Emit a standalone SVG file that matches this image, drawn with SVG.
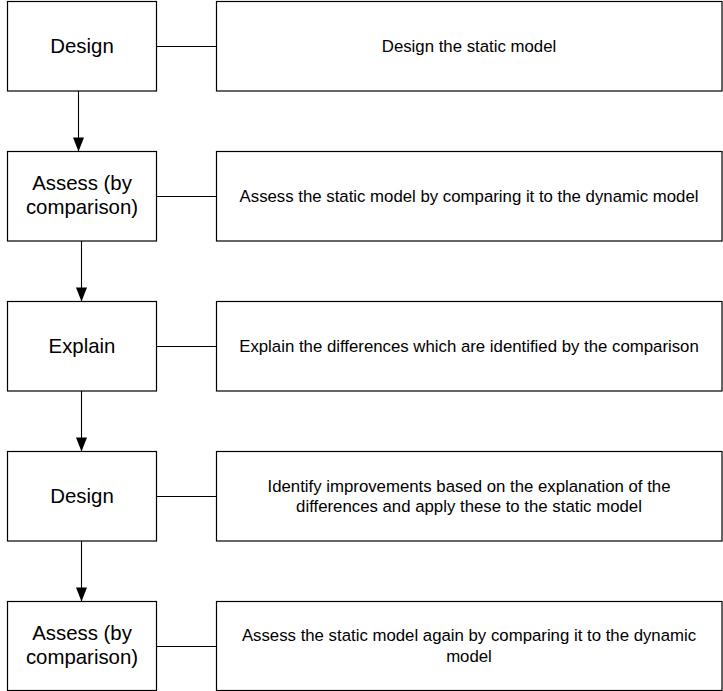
<svg xmlns="http://www.w3.org/2000/svg" width="723" height="691" viewBox="0 0 723 691">
<style>
.box{fill:#fff;stroke:#000;stroke-width:1.2}
.big{font-family:"Liberation Sans",Arial,sans-serif;font-size:20.4px;fill:#000;text-anchor:middle}
.small{font-family:"Liberation Sans",Arial,sans-serif;font-size:16.8px;fill:#000;text-anchor:middle}
.ln{stroke:#000;stroke-width:1.1;fill:none}
.head{fill:#000}
</style>
<rect width="723" height="691" fill="#fff"/>
<g id="connectors">
<line class="ln" x1="78.5" y1="91" x2="78.5" y2="151.5"/>
<path class="head" d="M73,137.5 L84,137.5 L78.5,151.5 Z"/>
<line class="ln" x1="81.5" y1="241" x2="81.5" y2="301.5"/>
<path class="head" d="M76,287.5 L87,287.5 L81.5,301.5 Z"/>
<line class="ln" x1="81.5" y1="391" x2="81.5" y2="451.5"/>
<path class="head" d="M76,437.5 L87,437.5 L81.5,451.5 Z"/>
<line class="ln" x1="81.5" y1="541" x2="81.5" y2="601.5"/>
<path class="head" d="M76,587.5 L87,587.5 L81.5,601.5 Z"/>
<line class="ln" x1="156.5" y1="46.5" x2="216.5" y2="46.5"/>
<line class="ln" x1="156.5" y1="196.5" x2="216.5" y2="196.5"/>
<line class="ln" x1="156.5" y1="346.5" x2="216.5" y2="346.5"/>
<line class="ln" x1="156.5" y1="496.5" x2="216.5" y2="496.5"/>
<line class="ln" x1="156.5" y1="646.5" x2="216.5" y2="646.5"/>
</g>
<g id="design1">
<rect class="box" x="7.5" y="1.5" width="149" height="89.5"/>
<text class="big" x="82" y="53.3">Design</text>
</g>
<g id="desc1">
<rect class="box" x="216.5" y="1.5" width="505.5" height="89.5"/>
<text class="small" x="469" y="52.3">Design the static model</text>
</g>
<g id="assess1">
<rect class="box" x="7.5" y="151.5" width="149" height="89.5"/>
<text class="big" x="82" y="190">Assess (by</text>
<text class="big" x="82" y="214">comparison)</text>
</g>
<g id="desc2">
<rect class="box" x="216.5" y="151.5" width="505.5" height="89.5"/>
<text class="small" x="469" y="202">Assess the static model by comparing it to the dynamic model</text>
</g>
<g id="explain">
<rect class="box" x="7.5" y="301.5" width="149" height="89.5"/>
<text class="big" x="82" y="353.3">Explain</text>
</g>
<g id="desc3">
<rect class="box" x="216.5" y="301.5" width="505.5" height="89.5"/>
<text class="small" x="469" y="352.3">Explain the differences which are identified by the comparison</text>
</g>
<g id="design2">
<rect class="box" x="7.5" y="451.5" width="149" height="89.5"/>
<text class="big" x="82" y="503.3">Design</text>
</g>
<g id="desc4">
<rect class="box" x="216.5" y="451.5" width="505.5" height="89.5"/>
<text class="small" x="469" y="491.7">Identify improvements based on the explanation of the</text>
<text class="small" x="469" y="511.7">differences and apply these to the static model</text>
</g>
<g id="assess2">
<rect class="box" x="7.5" y="601.5" width="149" height="89"/>
<text class="big" x="82" y="640">Assess (by</text>
<text class="big" x="82" y="664">comparison)</text>
</g>
<g id="desc5">
<rect class="box" x="216.5" y="601.5" width="505.5" height="89"/>
<text class="small" x="469" y="641">Assess the static model again by comparing it to the dynamic</text>
<text class="small" x="469" y="661.7">model</text>
</g>
</svg>
